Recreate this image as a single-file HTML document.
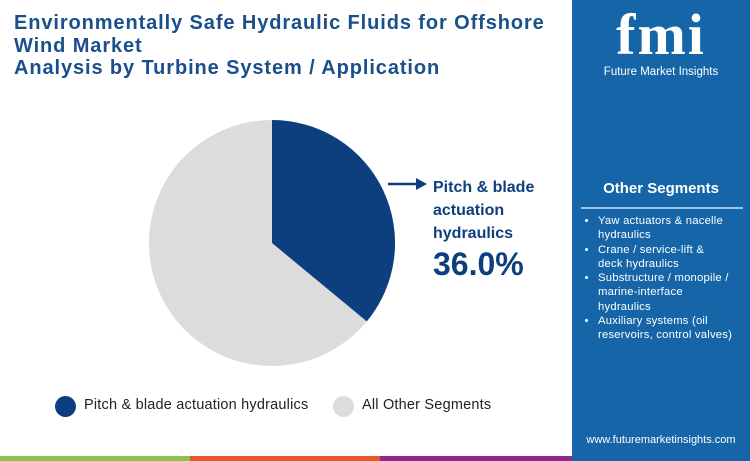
<!DOCTYPE html>
<html><head><style>
body{margin:0;width:750px;height:461px;position:relative;background:#fff;font-family:"Liberation Sans",sans-serif;overflow:hidden}
.t{position:absolute;left:14px;top:12px;font-weight:bold;font-size:20px;letter-spacing:0.9px;line-height:22.5px;color:#1a4f8c}
.panel{position:absolute;left:572px;top:0;width:178px;height:461px;background:#1565a8;color:#fff}
.bar{position:absolute;top:456px;height:5px}
.lg{position:absolute;top:397px;font-size:14.5px;letter-spacing:0.2px;color:#222}
.dot{position:absolute;top:396px;width:21px;height:21px;border-radius:50%}
ul{margin:0;padding-left:14px;font-size:11.3px;line-height:14.3px;letter-spacing:0.2px}
li{margin-bottom:0}
</style></head><body>
<div class="t">Environmentally Safe Hydraulic Fluids for Offshore<br>Wind Market<br>Analysis by Turbine System / Application</div>
<svg style="position:absolute;left:0;top:0" width="572" height="456">
<circle cx="272" cy="243" r="123" fill="#dcdcdc"/>
<path d="M272 243 L272 120 A123 123 0 0 1 366.8 321.4 Z" fill="#0d3f7f"/>
<line x1="388" y1="184" x2="418" y2="184" stroke="#0d3f7f" stroke-width="2.5"/>
<polygon points="416,178 427,184 416,190" fill="#0d3f7f"/>
<text x="433" y="192" font-family="Liberation Sans" font-weight="bold" font-size="16" fill="#0d3f7f">Pitch &amp; blade</text>
<text x="433" y="215" font-family="Liberation Sans" font-weight="bold" font-size="16" fill="#0d3f7f">actuation</text>
<text x="433" y="238" font-family="Liberation Sans" font-weight="bold" font-size="16" fill="#0d3f7f">hydraulics</text>
<text x="433" y="275" font-family="Liberation Sans" font-weight="bold" font-size="32" fill="#0d3f7f">36.0%</text>
</svg>
<div class="dot" style="left:55px;background:#0d3f7f"></div>
<div class="lg" style="left:84px">Pitch &amp; blade actuation hydraulics</div>
<div class="dot" style="left:333px;background:#dcdcdc"></div>
<div class="lg" style="left:362px">All Other Segments</div>
<div class="bar" style="left:0;width:190px;background:#8bc34a"></div>
<div class="bar" style="left:190px;width:190px;background:#e8582a"></div>
<div class="bar" style="left:380px;width:192px;background:#8e2a8e"></div>
<div class="panel">
<div style="position:absolute;left:0;width:178px;top:4px;text-align:center;font-family:'Liberation Serif',serif;font-weight:bold;font-size:58px;line-height:62px;letter-spacing:2px">fmi</div>
<div style="position:absolute;left:0;width:178px;top:66px;text-align:center;font-size:11.5px">Future Market Insights</div>
<div style="position:absolute;left:0;width:178px;top:180px;text-align:center;font-weight:bold;font-size:15px">Other Segments</div>
<div style="position:absolute;left:9px;width:162px;top:207px;height:2px;background:#9cc3e6"></div>
<div style="position:absolute;left:12px;top:214px;width:150px"><ul>
<li>Yaw actuators &amp; nacelle hydraulics</li>
<li>Crane / service-lift &amp;<br>deck hydraulics</li>
<li>Substructure / monopile / marine-interface hydraulics</li>
<li>Auxiliary systems (oil reservoirs, control valves)</li></ul></div>
<div style="position:absolute;left:0;width:178px;top:434px;text-align:center;font-size:11px">www.futuremarketinsights.com</div>
</div>
</body></html>
